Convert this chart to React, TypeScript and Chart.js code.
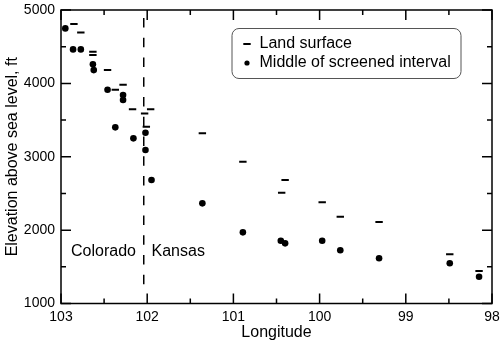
import React, { useEffect, useRef } from 'react';
import { Chart, registerables } from 'chart.js';

Chart.register(...registerables);

// Land surface elevations (dash markers)
const landLon = [102.85, 102.77, 102.63, 102.63, 102.46, 102.37, 102.28, 102.17, 102.03, 101.96, 102.01, 101.36, 100.89, 100.40, 100.44, 99.97, 99.76, 99.31, 98.49, 98.15];
const landElev = [4808, 4695, 4431, 4386, 4181, 3913, 3981, 3646, 3591, 3646, 3409, 3319, 2932, 2683, 2510, 2379, 2183, 2110, 1670, 1443];

// Middle of screened interval (dot markers)
const screenLon = [102.95, 102.86, 102.77, 102.63, 102.62, 102.46, 102.28, 102.28, 102.37, 102.02, 102.16, 102.02, 101.95, 101.36, 100.89, 100.45, 100.40, 99.97, 99.76, 99.31, 98.49, 98.15];
const screenElev = [4749, 4463, 4463, 4259, 4181, 3913, 3841, 3774, 3401, 3327, 3251, 3091, 2683, 2365, 1970, 1856, 1820, 1856, 1725, 1616, 1548, 1365];

const xTickValues = [103, 102, 101, 100, 99, 98];
const xMinorTicks = [102.5, 101.5, 100.5, 99.5, 98.5];
const yTickValues = [1000, 2000, 3000, 4000, 5000];
const yMinorTicks = [1500, 2500, 3500, 4500];

const stateBoundaryLon = 102.04;
const stateLabels = ['Colorado', 'Kansas'];
const stateLabelLon = [102.13, 101.95];
const stateLabelElev = 1650;

const seriesLabels = ['Land surface', 'Middle of screened interval'];
const xTitle = 'Longitude';
const yTitle = 'Elevation above sea level, ft';

const FONT = '"Liberation Sans", Arial, Helvetica, sans-serif';

const decorPlugin = {
  id: 'decor',
  afterDatasetsDraw(chart: any) {
    const { ctx, chartArea: a, scales } = chart;
    const x = scales.x;
    const y = scales.y;
    ctx.save();
    ctx.strokeStyle = '#000';
    ctx.fillStyle = '#000';

    // state boundary dashed line
    const bx = x.getPixelForValue(stateBoundaryLon);
    ctx.lineWidth = 1.5;
    ctx.setLineDash([9.5, 10.25]);
    ctx.beginPath();
    ctx.moveTo(bx, a.top + 8);
    ctx.lineTo(bx, a.bottom - 18);
    ctx.stroke();
    ctx.setLineDash([]);

    // frame
    ctx.lineWidth = 1.5;
    ctx.strokeRect(a.left, a.top, a.right - a.left, a.bottom - a.top);

    // inward ticks on all sides
    const major = 10;
    const minor = 5;
    const vTick = (v: number, len: number) => {
      const px = x.getPixelForValue(v);
      ctx.beginPath();
      ctx.moveTo(px, a.bottom);
      ctx.lineTo(px, a.bottom - len);
      ctx.moveTo(px, a.top);
      ctx.lineTo(px, a.top + len);
      ctx.stroke();
    };
    const hTick = (v: number, len: number) => {
      const py = y.getPixelForValue(v);
      ctx.beginPath();
      ctx.moveTo(a.left, py);
      ctx.lineTo(a.left + len, py);
      ctx.moveTo(a.right, py);
      ctx.lineTo(a.right - len, py);
      ctx.stroke();
    };
    xTickValues.forEach((v) => vTick(v, major));
    xMinorTicks.forEach((v) => vTick(v, minor));
    yTickValues.forEach((v) => hTick(v, major));
    yMinorTicks.forEach((v) => hTick(v, minor));

    // state labels
    ctx.font = `16px ${FONT}`;
    ctx.textBaseline = 'alphabetic';
    const ly = y.getPixelForValue(stateLabelElev);
    ctx.textAlign = 'right';
    ctx.fillText(stateLabels[0], x.getPixelForValue(stateLabelLon[0]), ly);
    ctx.textAlign = 'left';
    ctx.fillText(stateLabels[1], x.getPixelForValue(stateLabelLon[1]), ly);

    // legend box
    const bw = 229;
    const bh = 50;
    const bxl = a.right - 31 - bw;
    const byt = a.top + 18.5;
    ctx.lineWidth = 1;
    ctx.strokeStyle = '#555';
    ctx.beginPath();
    if ((ctx as any).roundRect) {
      (ctx as any).roundRect(bxl, byt, bw, bh, 7);
    } else {
      ctx.rect(bxl, byt, bw, bh);
    }
    ctx.stroke();
    ctx.strokeStyle = '#000';

    // legend items
    const mx = bxl + 15;
    const tx = bxl + 27.5;
    const row1 = byt + 15.5;
    const row2 = byt + 34.5;
    ctx.lineWidth = 2;
    ctx.beginPath();
    ctx.moveTo(mx - 3.7, row1);
    ctx.lineTo(mx + 3.7, row1);
    ctx.stroke();
    ctx.beginPath();
    ctx.arc(mx, row2, 2.6, 0, Math.PI * 2);
    ctx.fill();
    ctx.font = `16px ${FONT}`;
    ctx.textAlign = 'left';
    ctx.textBaseline = 'middle';
    ctx.fillText(seriesLabels[0], tx, row1);
    ctx.fillText(seriesLabels[1], tx, row2);

    ctx.restore();
  },
};

export default function App() {
  const canvasRef = useRef<HTMLCanvasElement | null>(null);

  useEffect(() => {
    if (!canvasRef.current) return;
    Chart.defaults.color = '#000';
    const chart = new Chart(canvasRef.current, {
      type: 'scatter',
      data: {
        datasets: [
          {
            label: seriesLabels[0],
            data: landLon.map((lon, i) => ({ x: lon, y: landElev[i] })),
            pointStyle: 'line',
            pointRadius: 3.7,
            pointBorderWidth: 2,
            borderColor: '#000',
            backgroundColor: '#000',
            pointHoverRadius: 3.7,
          },
          {
            label: seriesLabels[1],
            data: screenLon.map((lon, i) => ({ x: lon, y: screenElev[i] })),
            pointStyle: 'circle',
            pointRadius: 3.3,
            pointBorderWidth: 0,
            borderColor: '#000',
            backgroundColor: '#000',
            pointHoverRadius: 3.3,
          },
        ],
      },
      options: {
        animation: false,
        responsive: true,
        maintainAspectRatio: false,
        events: [],
        layout: { padding: { top: 10, right: 8, left: 0, bottom: 0 } },
        plugins: {
          legend: { display: false },
          tooltip: { enabled: false },
        },
        scales: {
          x: {
            type: 'linear',
            reverse: true,
            min: 98,
            max: 103,
            grid: { display: false, drawTicks: false },
            border: { display: false },
            afterBuildTicks: (scale: any) => {
              scale.ticks = xTickValues.map((v) => ({ value: v }));
            },
            afterFit: (scale: any) => {
              scale.height = 40.5;
              scale.paddingLeft = 0;
              scale.paddingRight = 0;
            },
            ticks: {
              autoSkip: false,
              maxRotation: 0,
              padding: 5,
              color: '#000',
              font: { family: FONT, size: 14 },
              callback: (v: any) => String(v),
            },
            title: {
              display: true,
              text: xTitle,
              color: '#000',
              font: { family: FONT, size: 16 },
              padding: { top: 0, bottom: 1.5 },
            },
          },
          y: {
            type: 'linear',
            min: 1000,
            max: 5000,
            grid: { display: false, drawTicks: false },
            border: { display: false },
            afterBuildTicks: (scale: any) => {
              scale.ticks = yTickValues.map((v) => ({ value: v }));
            },
            afterFit: (scale: any) => {
              scale.width = 61;
              scale.paddingTop = 0;
              scale.paddingBottom = 0;
            },
            ticks: {
              autoSkip: false,
              padding: 6,
              color: '#000',
              font: { family: FONT, size: 14 },
              callback: (v: any) => String(v),
            },
            title: {
              display: true,
              text: yTitle,
              color: '#000',
              font: { family: FONT, size: 16 },
              padding: { top: 2.5, bottom: 0 },
            },
          },
        },
      },
      plugins: [decorPlugin],
    });
    return () => chart.destroy();
  }, []);

  return (
    <div style={{ position: 'absolute', left: 0, top: 0, width: 500, height: 344, background: '#fff' }}>
      <canvas ref={canvasRef} />
    </div>
  );
}
